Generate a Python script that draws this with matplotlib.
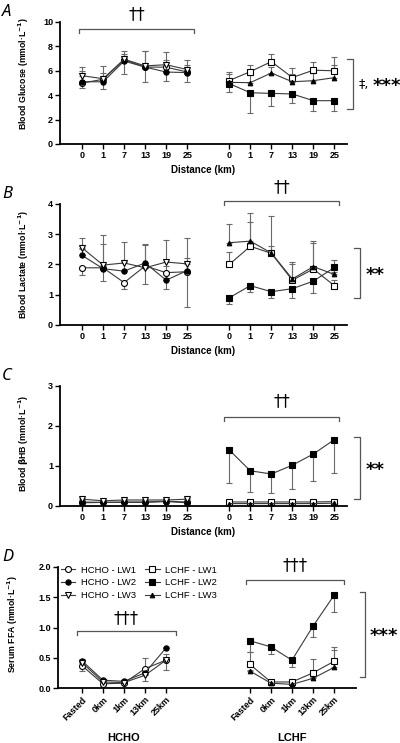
import numpy as np
import matplotlib
matplotlib.use('Agg')
import matplotlib.pyplot as plt
import matplotlib.transforms as mtransforms

plt.rcParams['font.family'] = ['Liberation Sans', 'DejaVu Sans']

km_labels = ['0', '1', '7', '13', '19', '25']
ffa_labels = ['Fasted', '0km', '1km', '13km', '25km']
series_names = ['HCHO - LW1', 'HCHO - LW2', 'HCHO - LW3',
                'LCHF - LW1', 'LCHF - LW2', 'LCHF - LW3']

# A: blood glucose (mmol/L) mean / SD
glu_hcho = [[5.0, 5.3, 6.9, 6.3, 6.3, 5.9],
            [5.1, 5.1, 6.8, 6.3, 5.9, 5.85],
            [5.6, 5.35, 6.95, 6.4, 6.5, 6.1]]
glu_hcho_sd = [[0.45, 0.8, 1.2, 1.2, 1.1, 0.8],
               [0.88, 0.75, 0.6, 1.35, 1.0, 0.65],
               [0.68, 1.05, 0.7, 1.2, 1.0, 0.8]]
glu_lchf = [[5.2, 5.93, 6.75, 5.45, 6.05, 6.0],
            [4.95, 4.2, 4.15, 4.1, 3.55, 3.55],
            [5.05, 5.03, 5.82, 5.1, 5.19, 5.44]]
glu_lchf_sd = [[0.73, 0.55, 0.65, 0.8, 0.7, 1.15],
               [0.65, 1.7, 1.0, 0.75, 0.85, 0.85],
               [0.65, 0.6, 0.5, 0.6, 0.6, 1.0]]

# B: blood lactate (mmol/L)
lac_hcho = [[1.89, 1.89, 1.40, 1.95, 1.73, 1.76],
            [2.30, 1.86, 1.78, 2.05, 1.48, 1.80],
            [2.55, 1.98, 2.05, 1.89, 2.08, 2.02]]
lac_hcho_sd = [[0.25, 0.45, 0.22, 0.6, 0.53, 1.17],
               [0.2, 0.82, 0.3, 0.64, 0.47, 0.42],
               [0.31, 1.0, 0.69, 0.75, 0.72, 0.84]]
lac_lchf = [[2.0, 2.6, 2.37, 1.48, 1.85, 1.3],
            [0.9, 1.3, 1.1, 1.2, 1.45, 1.9],
            [2.72, 2.77, 2.38, 1.52, 1.93, 1.67]]
lac_lchf_sd = [[0.4, 0.8, 0.25, 0.52, 0.85, 0.2],
               [0.22, 0.22, 0.22, 0.32, 0.4, 0.15],
               [0.63, 0.93, 1.22, 0.55, 0.85, 0.48]]

# C: blood bHB (mmol/L)
bhb_hcho = [[0.10, 0.09, 0.10, 0.10, 0.12, 0.10],
            [0.08, 0.09, 0.09, 0.09, 0.11, 0.08],
            [0.17, 0.13, 0.15, 0.15, 0.15, 0.17]]
bhb_hcho_sd = [[0.02] * 6, [0.02] * 6, [0.02] * 6]
bhb_lchf = [[0.10, 0.10, 0.10, 0.10, 0.10, 0.11],
            [1.40, 0.88, 0.80, 1.02, 1.30, 1.66],
            [0.06, 0.06, 0.06, 0.06, 0.06, 0.07]]
bhb_lchf_sd = [[0.02] * 6,
               [0.83, 0.53, 0.48, 0.60, 0.67, 0.84],
               [0.01] * 6]

# D: serum FFA (mmol/L)
ffa_hcho = [[0.37, 0.07, 0.08, 0.32, 0.46],
            [0.45, 0.13, 0.11, 0.25, 0.66],
            [0.42, 0.10, 0.09, 0.21, 0.46]]
ffa_hcho_sd = [[0.09, 0.02, 0.02, 0.20, 0.16],
               [0.03, 0.02, 0.02, 0.05, 0.02],
               [0.05, 0.02, 0.02, 0.29, 0.11]]
ffa_lchf = [[0.39, 0.10, 0.10, 0.25, 0.44],
            [0.78, 0.68, 0.46, 1.02, 1.53],
            [0.28, 0.08, 0.06, 0.16, 0.34]]
ffa_lchf_sd = [[0.20, 0.02, 0.02, 0.23, 0.23],
               [0.18, 0.11, 0.12, 0.17, 0.27],
               [0.02, 0.02, 0.02, 0.02, 0.28]]

# marker styles, error bar side per series
styles = [dict(marker='o', mfc='white', ms=4.3),
          dict(marker='o', mfc='black', ms=3.8),
          dict(marker='v', mfc='white', ms=4.5),
          dict(marker='s', mfc='white', ms=4.3),
          dict(marker='s', mfc='black', ms=3.8),
          dict(marker='^', mfc='black', ms=3.3)]
err_side = ['down', 'up', 'up', 'up', 'down', 'up']

LINE = '#3a3a3a'
ERR = '#6a6a6a'
BR = '#555555'


def draw_group(ax, x, means, sds, offset, label=False):
    for i, (m, s) in enumerate(zip(means, sds)):
        k = i + offset
        m = np.array(m)
        s = np.array(s)
        z = np.zeros_like(s)
        yerr = [s, z] if err_side[k] == 'down' else [z, s]
        ax.errorbar(x, m, yerr=yerr, fmt='none', ecolor=ERR, elinewidth=0.8,
                    capsize=2.3, capthick=0.8, zorder=2)
        ax.plot(x, m, color=LINE, lw=0.8, mec='black', mew=0.8, zorder=3,
                label=series_names[k] if label else None, **styles[k])


def style_axes(ax, ymax, step, fmt):
    for sp in ['top', 'right']:
        ax.spines[sp].set_visible(False)
    for sp in ['left', 'bottom']:
        ax.spines[sp].set_linewidth(1.3)
    ax.set_ylim(0, ymax)
    ax.set_yticks(np.arange(0, ymax + step / 2, step))
    ax.set_yticklabels([fmt.format(v) for v in np.arange(0, ymax + step / 2, step)],
                       fontweight='bold', fontsize=6.5)
    ax.tick_params(axis='both', length=3.5, width=1.0, pad=1.5)


def top_bracket(ax, x0, x1, y, drop, text, ty):
    ax.plot([x0, x0, x1, x1], [y - drop, y, y, y - drop], color=BR, lw=0.9,
            clip_on=False)
    ax.text((x0 + x1) / 2, ty, text, ha='center', va='center', fontsize=12,
            family='DejaVu Sans', clip_on=False)


def right_bracket(ax, x, tick, y0, y1):
    ax.plot([x - tick, x, x, x - tick], [y0, y0, y1, y1], color=BR, lw=0.9,
            clip_on=False)


def stars(ax, x, y, text):
    ax.text(x, y, text, ha='left', va='center', fontsize=13,
            fontweight='bold', family='DejaVu Sans', clip_on=False)


fig = plt.figure(figsize=(4.0, 7.43), dpi=100)

x_h = np.arange(6)
x_l = np.arange(6) + 7
x_ticks = np.concatenate([x_h, x_l])

panels = [
    ('A', [0.15, 0.8062, 0.7175, 0.1642], glu_hcho, glu_hcho_sd, glu_lchf, glu_lchf_sd,
     10, 2, 'Blood Glucose (mmol·L$^{\\mathbf{-1}}$)', 0.58),
    ('B', [0.15, 0.5626, 0.7175, 0.1629], lac_hcho, lac_hcho_sd, lac_lchf, lac_lchf_sd,
     4, 1, 'Blood Lactate (mmol·L$^{\\mathbf{-1}}$)', 0.5),
    ('C', [0.15, 0.3190, 0.7175, 0.1615], bhb_hcho, bhb_hcho_sd, bhb_lchf, bhb_lchf_sd,
     3, 1, 'Blood $\\mathbf{\\beta}$HB (mmol·L$^{\\mathbf{-1}}$)', 0.52),
]

axes = []
for letter, rect, mh, sh, ml, sl, ymax, step, ylab, ly in panels:
    ax = fig.add_axes(rect)
    draw_group(ax, x_h, mh, sh, 0)
    draw_group(ax, x_l, ml, sl, 3)
    style_axes(ax, ymax, step, '{:.0f}')
    ax.set_xlim(-1.05, 12.6)
    ax.set_xticks(x_ticks)
    ax.set_xticklabels(km_labels + km_labels, fontweight='bold', fontsize=6.5)
    ax.set_xlabel('Distance (km)', fontweight='bold', fontsize=7, labelpad=4)
    ax.set_ylabel(ylab, fontweight='bold', fontsize=6.3)
    ax.yaxis.set_label_coords(-0.1, ly)
    fig.text(0.005, rect[1] + rect[3] + 0.013, letter, fontsize=12,
             style='italic', family='Noto Sans', va='center')
    axes.append(ax)

axA, axB, axC = axes
# A annotations
top_bracket(axA, -0.14, 5.33, 9.43, 0.33, '††', 10.65)
right_bracket(axA, 12.9, 0.28, 6.97, 2.87)
axA.text(13.15, 4.84, '‡,', ha='left', va='center', fontsize=9,
         family='DejaVu Sans', clip_on=False)
stars(axA, 13.8, 4.75, '***')
# B annotations
top_bracket(axB, 6.76, 12.24, 4.1, 0.14, '††', 4.55)
right_bracket(axB, 13.2, 0.28, 2.54, 0.89)
stars(axB, 13.5, 1.65, '**')
# C annotations
top_bracket(axC, 6.76, 12.24, 2.23, 0.1, '††', 2.62)
right_bracket(axC, 13.2, 0.28, 1.73, 0.17)
stars(axC, 13.5, 0.9, '**')

# D: serum FFA
axD = fig.add_axes([0.145, 0.074, 0.745, 0.1629])
xd_h = np.arange(5)
xd_l = np.arange(5) + 8
draw_group(axD, xd_h, ffa_hcho, ffa_hcho_sd, 0, label=True)
draw_group(axD, xd_l, ffa_lchf, ffa_lchf_sd, 3, label=True)
style_axes(axD, 2.0, 0.5, '{:.1f}')
axD.set_xlim(-1.14, 13.05)
axD.set_xticks(np.concatenate([xd_h, xd_l]))
axD.set_xticklabels(ffa_labels + ffa_labels, fontweight='bold', fontsize=6.5,
                    rotation=45, ha='right', rotation_mode='anchor')
axD.set_ylabel('Serum FFA (mmol·L$^{\\mathbf{-1}}$)', fontweight='bold', fontsize=6.3)
axD.yaxis.set_label_coords(-0.128, 0.53)
fig.text(0.005, 0.074 + 0.1629 + 0.013, 'D', fontsize=12, style='italic',
         family='Noto Sans', va='center')

top_bracket(axD, -0.24, 4.48, 0.94, 0.065, '†††', 1.16)
top_bracket(axD, 7.8, 12.5, 1.785, 0.065, '†††', 2.03)
right_bracket(axD, 13.48, 0.24, 1.59, 0.18)
stars(axD, 13.7, 0.86, '***')

trans = mtransforms.blended_transform_factory(axD.transData, axD.transAxes)
axD.text(2, -0.41, 'HCHO', transform=trans, ha='center', va='center',
         fontsize=8, fontweight='bold')
axD.text(10, -0.41, 'LCHF', transform=trans, ha='center', va='center',
         fontsize=8, fontweight='bold')

h, l = axD.get_legend_handles_labels()
axD.legend(h, l, ncol=2, loc='upper left',
           bbox_to_anchor=(0.01, 1.01), frameon=False, fontsize=6.8,
           handlelength=1.5, handletextpad=0.6, columnspacing=1.0,
           labelspacing=0.38, borderaxespad=0, borderpad=0)

fig.savefig('out.png', dpi=100)
